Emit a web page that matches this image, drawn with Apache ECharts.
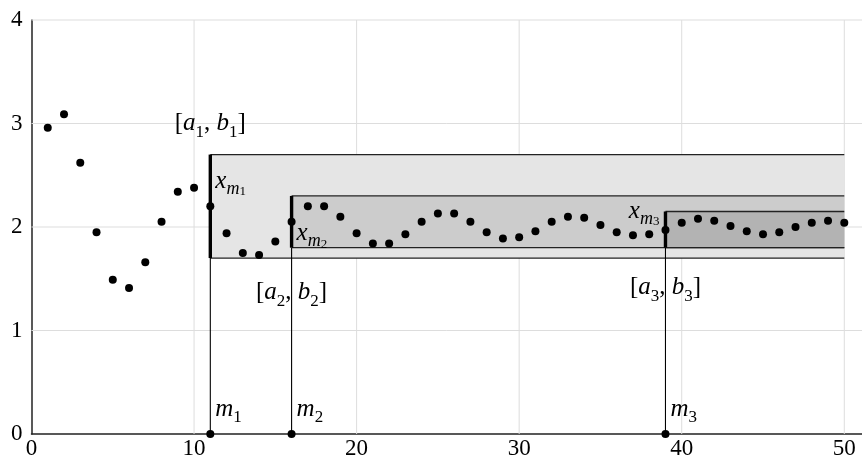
<!DOCTYPE html>
<html>
<head>
<meta charset="utf-8">
<script src="https://cdn.jsdelivr.net/npm/echarts@6/dist/echarts.min.js"></script>
<style>html,body{margin:0;padding:0;background:#fff;overflow:hidden;width:862px;height:460px}#c{width:872px;height:460px}</style>
</head>
<body>
<div id="c"></div>
<script>
const xValues = [1,2,3,4,5,6,7,8,9,10,11,12,13,14,15,16,17,18,19,20,21,22,23,24,25,26,27,28,29,30,31,32,33,34,35,36,37,38,39,40,41,42,43,44,45,46,47,48,49,50];
const yValues = [2.96,3.09,2.62,1.95,1.49,1.41,1.66,2.05,2.34,2.38,2.20,1.94,1.75,1.73,1.86,2.05,2.20,2.20,2.10,1.94,1.84,1.84,1.93,2.05,2.13,2.13,2.05,1.95,1.89,1.90,1.96,2.05,2.10,2.09,2.02,1.95,1.92,1.93,1.97,2.04,2.08,2.06,2.01,1.96,1.93,1.95,2.00,2.04,2.06,2.04];
const mPositions = [11, 16, 39];
const intervalLow = [1.7, 1.8, 1.8];
const intervalHigh = [2.7, 2.3, 2.15];
const intervalEnd = 50;
const xTicks = [0, 10, 20, 30, 40, 50];
const yTicks = [0, 1, 2, 3, 4];

const SERIF = '"Liberation Serif", "DejaVu Serif", serif';
const fills = ['#e5e5e5', '#cccccc', '#b3b3b3'];
const X_MAX = 51.09;
const Y_MAX = 4;

const points = xValues.map((x, i) => [x, yValues[i]]);
const mDots = mPositions.map(m => [m, 0]);
const intervals = mPositions.map((m, i) => [m, intervalLow[i], intervalHigh[i], intervalEnd, i]);
const vGrid = xTicks.filter(t => t > 0).map(t => [t]);
const hGrid = yTicks.filter(t => t > 0).map(t => [t]);

const rich = {
  n: {fontFamily: SERIF, fontSize: 25, lineHeight: 34, verticalAlign: 'middle', fill: '#000'},
  i: {fontFamily: SERIF, fontStyle: 'italic', fontSize: 25, lineHeight: 34, verticalAlign: 'middle', fill: '#000'},
  s: {fontFamily: SERIF, fontSize: 17, lineHeight: 17, verticalAlign: 'bottom', fill: '#000'},
  si: {fontFamily: SERIF, fontStyle: 'italic', fontSize: 18, lineHeight: 18, verticalAlign: 'bottom', fill: '#000'},
  ss: {fontFamily: SERIF, fontSize: 13, lineHeight: 11, verticalAlign: 'bottom', fill: '#000'}
};

function lbl(i) { return String(i + 1); }

const chart = echarts.init(document.getElementById('c'), null, {renderer: 'canvas'});
chart.setOption({
  animation: false,
  backgroundColor: '#fff',
  grid: {left: 31.5, right: 10, top: 20, bottom: 25},
  xAxis: {
    type: 'value', min: 0, max: X_MAX, interval: 10,
    axisLine: {show: true, onZero: false, lineStyle: {color: '#222', width: 1.5}},
    axisTick: {show: false},
    axisLabel: {fontFamily: SERIF, fontSize: 23, color: '#000', margin: 3, showMaxLabel: false,
      formatter: v => xTicks.includes(v) ? String(v) : ''},
    splitLine: {show: false}
  },
  yAxis: {
    type: 'value', min: 0, max: Y_MAX, interval: 1,
    axisLine: {show: true, lineStyle: {color: '#222', width: 1.5}},
    axisTick: {show: false},
    axisLabel: {fontFamily: SERIF, fontSize: 23, color: '#000', margin: 9,
      formatter: v => yTicks.includes(v) ? String(v) : ''},
    splitLine: {show: false}
  },
  series: [
    {
      type: 'custom', z: 1, silent: true, clip: false,
      data: vGrid,
      renderItem: function (params, api) {
        const x = api.value(0);
        const a = api.coord([x, 0]);
        const b = api.coord([x, Y_MAX]);
        return {type: 'line', shape: {x1: a[0], y1: a[1], x2: b[0], y2: b[1]}, style: {stroke: '#dddddd', lineWidth: 1}};
      }
    },
    {
      type: 'custom', z: 1, silent: true, clip: false,
      data: hGrid,
      renderItem: function (params, api) {
        const y = api.value(0);
        const a = api.coord([0, y]);
        const b = api.coord([X_MAX, y]);
        return {type: 'line', shape: {x1: a[0], y1: a[1], x2: b[0], y2: b[1]}, style: {stroke: '#dddddd', lineWidth: 1}};
      }
    },
    {
      type: 'custom', z: 2, clip: false,
      data: intervals,
      renderItem: function (params, api) {
        const m = api.value(0), lo = api.value(1), hi = api.value(2), end = api.value(3), idx = api.value(4);
        const pLo = api.coord([m, lo]);
        const pHi = api.coord([m, hi]);
        const pEnd = api.coord([end, hi]);
        const p0 = api.coord([m, 0]);
        const children = [
          {type: 'rect', shape: {x: pLo[0], y: pHi[1], width: pEnd[0] - pLo[0], height: pLo[1] - pHi[1]},
            style: {fill: fills[idx]}},
          {type: 'line', shape: {x1: pLo[0], y1: pHi[1], x2: pEnd[0], y2: pHi[1]}, style: {stroke: '#222', lineWidth: 1.3}},
          {type: 'line', shape: {x1: pLo[0], y1: pLo[1], x2: pEnd[0], y2: pLo[1]}, style: {stroke: '#222', lineWidth: 1.3}},
          {type: 'line', shape: {x1: p0[0], y1: p0[1], x2: pLo[0], y2: pLo[1]}, style: {stroke: '#000', lineWidth: 1.1}},
          {type: 'line', shape: {x1: pLo[0], y1: pLo[1], x2: pHi[0], y2: pHi[1]}, style: {stroke: '#000', lineWidth: 3.4}}
        ];
        return {type: 'group', children: children};
      }
    },
    {
      type: 'scatter', z: 5, symbol: 'circle', symbolSize: 8,
      itemStyle: {color: '#000', opacity: 1}, data: points
    },
    {
      type: 'scatter', z: 5, symbol: 'circle', symbolSize: 8,
      itemStyle: {color: '#000', opacity: 1}, data: mDots
    },
    {
      type: 'custom', z: 6, clip: false,
      data: intervals,
      renderItem: function (params, api) {
        const m = api.value(0), lo = api.value(1), hi = api.value(2), idx = api.value(4);
        const pLo = api.coord([m, lo]);
        const pHi = api.coord([m, hi]);
        const p0 = api.coord([m, 0]);
        const k = lbl(idx);
        const ab = '{n|[}{i|a}{s|' + k + '}{n|, }{i|b}{s|' + k + '}{n|]}';
        const xm = '{i|x}{si|m}{ss|' + k + '}';
        const mm = '{i|m}{s|' + k + '}';
        let abPos, xmPos, xmAlign;
        if (idx === 0) {
          abPos = [pHi[0], pHi[1] - 31];
          xmPos = [pHi[0] + 5, pHi[1] + 27];
          xmAlign = 'left';
        } else if (idx === 1) {
          abPos = [pLo[0], pLo[1] + 45];
          xmPos = [pLo[0] + 5, pLo[1] - 14];
          xmAlign = 'left';
        } else {
          abPos = [pLo[0], pLo[1] + 40];
          xmPos = [pHi[0] - 6, pHi[1]];
          xmAlign = 'right';
        }
        const mk = (pos, txt, align) => ({
          type: 'text', x: pos[0], y: pos[1],
          style: {text: txt, rich: rich, align: align, verticalAlign: 'middle', fill: '#000'}
        });
        return {type: 'group', children: [
          mk(abPos, ab, 'center'),
          mk(xmPos, xm, xmAlign),
          mk([p0[0] + 5, p0[1] - 25], mm, 'left')
        ]};
      }
    }
  ]
});
</script>
</body>
</html>
